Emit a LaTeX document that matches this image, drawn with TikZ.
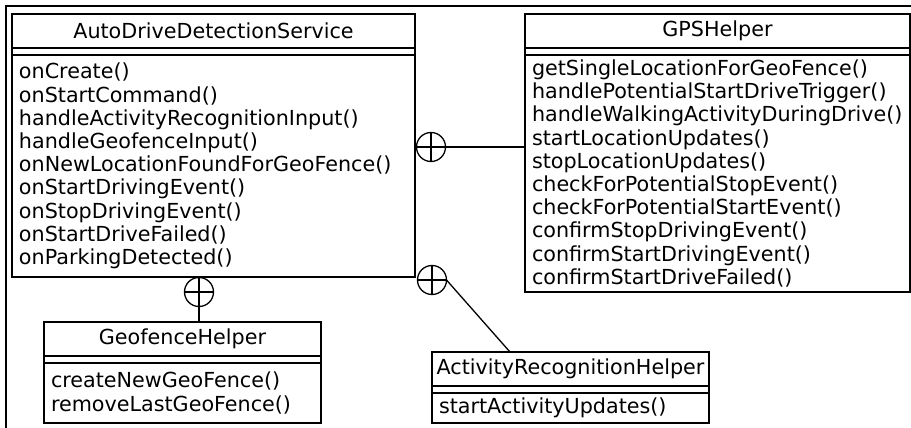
\documentclass[tikz,border=0pt]{standalone}
\usepackage{fontspec}
\setmainfont{DejaVu Sans}
\usetikzlibrary{positioning}

\begin{document}
\begin{tikzpicture}[x=1pt, y=-1pt,
  every node/.style={outer sep=0pt, font=\fontsize{20.7}{23.2}\selectfont},
  clsname/.style={draw, line width=1.3pt, minimum height=34pt, inner xsep=1pt, anchor=north west},
  clsattr/.style={draw, line width=1.3pt, minimum height=7pt, inner sep=0pt},
  clsops/.style={draw, line width=1.3pt, align=left, inner xsep=7pt, inner ysep=0pt},
  nest/.style={draw, line width=1.3pt, circle, minimum size=29pt, inner sep=0pt,
    path picture={\draw[line width=1.3pt] (path picture bounding box.north) -- (path picture bounding box.south)
      (path picture bounding box.west) -- (path picture bounding box.east);}}
]
  \useasboundingbox (0,0) rectangle (911,428);
  \draw[line width=2.8pt] (6,428) -- (6,6) -- (911,6);

  % Service
  \node[clsname, minimum width=403pt] (adds) at (12,14) {AutoDriveDetectionService};
  \node[clsattr, minimum width=403pt, below=0pt of adds] (addsattr) {};
  \node[clsops, text width=389pt, minimum height=222pt, below=0pt of addsattr] (addsops) {
    onCreate()\\
    onStartCommand()\\
    handleActivityRecognitionInput()\\
    handleGeofenceInput()\\
    onNewLocationFoundForGeoFence()\\
    onStartDrivingEvent()\\
    onStopDrivingEvent()\\
    onStartDriveFailed()\\
    onParkingDetected()
  };

  % GPS helper
  \node[clsname, minimum width=385pt] (gps) at (525,14) {GPSHelper};
  \node[clsattr, minimum width=385pt, below=0pt of gps] (gpsattr) {};
  \node[clsops, text width=371pt, minimum height=237pt, below=0pt of gpsattr] (gpsops) {
    getSingleLocationForGeoFence()\\
    handlePotentialStartDriveTrigger()\\
    handleWalkingActivityDuringDrive()\\
    startLocationUpdates()\\
    stopLocationUpdates()\\
    checkForPotentialStopEvent()\\
    checkForPotentialStartEvent()\\
    confirmStopDrivingEvent()\\
    confirmStartDrivingEvent()\\
    confirmStartDriveFailed()
  };

  % Geofence helper
  \node[clsname, minimum width=277pt] (geo) at (44,322) {GeofenceHelper};
  \node[clsattr, minimum width=277pt, below=0pt of geo] (geoattr) {};
  \node[clsops, text width=263pt, minimum height=60pt, below=0pt of geoattr] (geoops) {
    createNewGeoFence()\\
    removeLastGeoFence()
  };

  % Activity recognition helper
  \node[clsname, minimum width=277pt] (arh) at (432,352) {ActivityRecognitionHelper};
  \node[clsattr, minimum width=277pt, below=0pt of arh] (arhattr) {};
  \node[clsops, text width=263pt, minimum height=30pt, below=0pt of arhattr] (arhops) {
    startActivityUpdates()
  };

  % nesting
  \node[nest] (gpsnest) at (431,147) {};
  \node[nest] (arhnest) at (432,280) {};
  \node[nest] (geonest) at (199,292) {};

  \draw[line width=1.3pt] (gpsnest) -- (gpsops.west |- gpsnest);
  \draw[line width=1.3pt] (arhnest.east) -- ([xshift=78pt]arh.north west);
  \draw[line width=1.3pt] (geonest) -- (geonest |- geo.north);
\end{tikzpicture}
\end{document}
